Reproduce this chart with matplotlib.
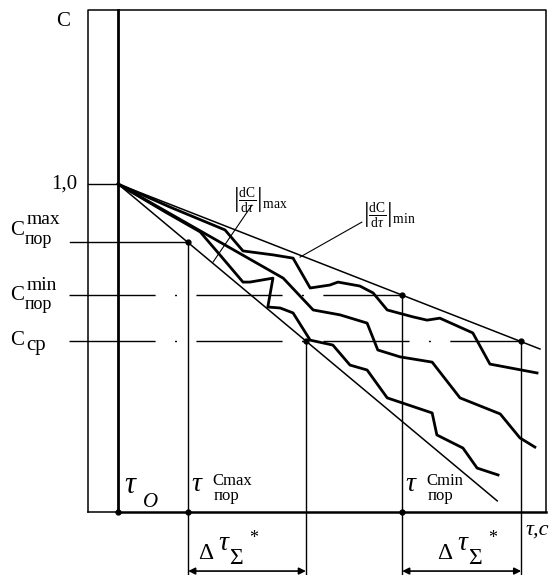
import numpy as np
import matplotlib.pyplot as plt

plt.rcParams['font.family'] = ['Liberation Serif', 'DejaVu Serif']
plt.rcParams['mathtext.fontset'] = 'custom'
plt.rcParams['mathtext.rm'] = 'Liberation Serif'
plt.rcParams['mathtext.it'] = 'Liberation Serif:italic'
plt.rcParams['lines.scale_dashes'] = False

# time axis (tau) in arbitrary units, C relative concentration
t_frame = [-0.70, 10.0]
C_top = 1.53

# bounding straight lines |dC/dtau| min / max
t_min_line = [0.0, 9.86]
C_min_line = [1.0, 0.497]
t_max_line = [0.0, 8.86]
C_max_line = [1.0, 0.034]

# three realisations of C(tau)
tA = [0, 1.21, 2.50, 2.92, 3.62, 4.09, 4.49, 4.95, 5.14, 5.65, 5.96, 6.29, 6.89, 7.22, 7.52, 8.29, 8.69, 9.79]
CA = [1, 0.930, 0.860, 0.796, 0.784, 0.774, 0.683, 0.692, 0.701, 0.689, 0.668, 0.616, 0.595, 0.585, 0.591, 0.546, 0.451, 0.424]
tB = [0, 3.08, 3.86, 4.56, 5.19, 5.82, 6.07, 6.59, 7.34, 7.99, 8.93, 9.39, 9.74]
CB = [1, 0.771, 0.713, 0.616, 0.601, 0.576, 0.494, 0.473, 0.457, 0.348, 0.299, 0.226, 0.198]
tC = [0, 1.10, 1.92, 2.38, 2.92, 3.08, 3.62, 3.50, 3.79, 4.09, 4.49, 5.02, 5.42, 5.82, 6.29, 7.34, 7.45, 8.06, 8.39, 8.88]
CC = [1, 0.915, 0.854, 0.784, 0.701, 0.701, 0.713, 0.625, 0.622, 0.607, 0.524, 0.509, 0.448, 0.433, 0.348, 0.302, 0.235, 0.195, 0.134, 0.113]

# threshold levels and crossing times
C_por_max = 0.823
C_por_min = 0.662
C_sr = 0.52
t_por_max = 1.64
t_sr_1 = 4.39
t_por_min = 6.64
t_sr_2 = 9.42

fig = plt.figure(figsize=(5.52, 5.75), dpi=100)
ax = fig.add_axes([0, 0, 1, 1])
ax.set_xlim(-2.757, 10.140)
ax.set_ylim(-0.192, 1.561)
ax.axis('off')

k = 'black'
y_bot = -0.192
y_arr = -0.18

# frame
ax.plot([t_frame[0], t_frame[0], t_frame[1], t_frame[1]], [0, C_top, C_top, 0], color=k, lw=1.1)
ax.plot([t_frame[0], 0], [0, 0], color=k, lw=1.1)
ax.plot([0, t_frame[1]], [0, 0], color=k, lw=1.8)
ax.plot([0, 0], [0, C_top], color=k, lw=2.0)
ax.plot([t_frame[0], 0], [1.0, 1.0], color=k, lw=1.0)

# level lines
ax.plot([-1.12, t_por_max], [C_por_max, C_por_max], color=k, lw=1.0)
ax.plot([-1.14, t_por_min], [C_por_min, C_por_min], color=k, lw=1.0, ls=(0, (62, 14, 1.4, 14)))
ax.plot([-1.14, t_sr_2], [C_sr, C_sr], color=k, lw=1.0, ls=(0, (62, 14, 1.4, 14)))

# verticals
for tv, cv in [(t_por_max, C_por_max), (t_sr_1, C_sr), (t_por_min, C_por_min), (t_sr_2, C_sr)]:
    ax.plot([tv, tv], [cv, y_bot], color=k, lw=1.0)
    ax.plot(tv, cv, 'o', color=k, ms=3.5)

# bounds and curves
ax.plot(t_min_line, C_min_line, color=k, lw=1.1)
ax.plot(t_max_line, C_max_line, color=k, lw=1.1)
ax.plot(tA, CA, color=k, lw=2.0, solid_joinstyle='round')
ax.plot(tB, CB, color=k, lw=2.0, solid_joinstyle='round')
ax.plot(tC, CC, color=k, lw=2.0, solid_joinstyle='round')

ax.plot([0, t_por_max, t_por_min], [0, 0, 0], 'o', color=k, ms=3.5)

# arrows
for a, b in [(t_por_max, t_sr_1), (t_por_min, t_sr_2)]:
    ax.annotate('', xy=(a, y_arr), xytext=(b, y_arr),
                arrowprops=dict(arrowstyle='<|-|>', color=k, lw=1.2, mutation_scale=10, shrinkA=0, shrinkB=0))

# leaders
ax.annotate('', xy=(2.22, 0.762), xytext=(3.13, 0.936), arrowprops=dict(arrowstyle='-', color=k, lw=0.8, shrinkA=0, shrinkB=0))
ax.annotate('', xy=(4.25, 0.777), xytext=(5.70, 0.884), arrowprops=dict(arrowstyle='-', color=k, lw=0.8, shrinkA=0, shrinkB=0))

# texts
ax.text(-1.285, 1.494, 'C', fontsize=15, ha='center', va='center')
ax.text(-0.96, 1.0, '1,0', fontsize=15, ha='right', va='center')

ax.text(-2.52, 0.857, 'C', fontsize=15, ha='left', va='center')
ax.text(-2.14, 0.892, 'max', fontsize=14, ha='left', va='center')
ax.text(-2.17, 0.830, 'пор', fontsize=13, ha='left', va='center')

ax.text(-2.52, 0.659, 'C', fontsize=15, ha='left', va='center')
ax.text(-2.14, 0.690, 'min', fontsize=14, ha='left', va='center')
ax.text(-2.17, 0.632, 'пор', fontsize=13, ha='left', va='center')

ax.text(-2.52, 0.524, 'C', fontsize=15, ha='left', va='center')
ax.text(-2.15, 0.508, 'ср', fontsize=15, ha='left', va='center')

ax.text(2.69, 0.950, r'$\left|\frac{\mathrm{dC}}{\mathrm{d}\tau}\right|_{\mathrm{max}}$', fontsize=14, ha='left', va='center')
ax.text(5.72, 0.905, r'$\left|\frac{\mathrm{dC}}{\mathrm{d}\tau}\right|_{\mathrm{min}}$', fontsize=14, ha='left', va='center')

ax.text(0.14, 0.080, 'τ', fontsize=22, style='italic', ha='left', va='center')
ax.text(0.58, 0.030, 'O', fontsize=15, style='italic', ha='left', va='center')

for tl, sup in [(1.71, 'Cmax'), (6.71, 'Cmin')]:
    ax.text(tl, 0.085, 'τ', fontsize=20, style='italic', ha='left', va='center')
    ax.text(tl + 0.50, 0.095, sup, fontsize=12, ha='left', va='center')
    ax.text(tl + 0.52, 0.050, 'пор', fontsize=12, ha='left', va='center')

for tl in [1.87, 7.45]:
    ax.text(tl, -0.125, 'Δ', fontsize=17, ha='left', va='center')
    ax.text(tl + 0.47, -0.095, 'τ', fontsize=20, style='italic', ha='left', va='center')
    ax.text(tl + 0.72, -0.142, 'Σ', fontsize=17, ha='left', va='center')
    ax.text(tl + 1.20, -0.080, '*', fontsize=13, ha='left', va='center')

ax.text(9.51, -0.055, 'τ,c', fontsize=16, style='italic', ha='left', va='center')

fig.savefig('out.png', dpi=100)
